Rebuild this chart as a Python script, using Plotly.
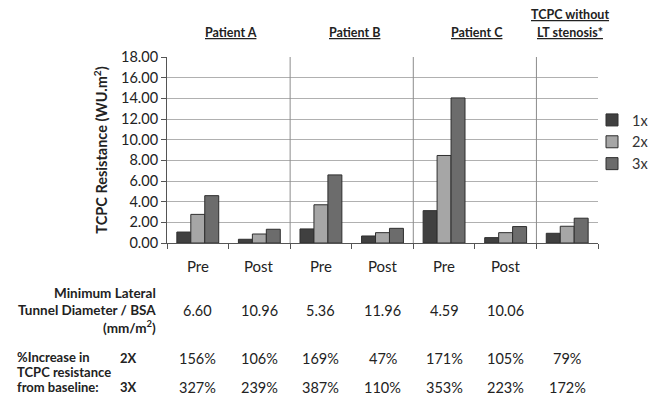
import plotly.graph_objects as go

categories = ["Pre", "Post", "Pre", "Post", "Pre", "Post", ""]
groups = ["Patient A", "Patient B", "Patient C", "TCPC without|LT stenosis*"]
series_names = ["1x", "2x", "3x"]
values_1x = [1.06, 0.36, 1.36, 0.68, 3.13, 0.52, 0.94]
values_2x = [2.77, 0.87, 3.70, 1.00, 8.47, 1.00, 1.62]
values_3x = [4.58, 1.33, 6.59, 1.42, 14.04, 1.59, 2.40]
diam_bsa = ["6.60", "10.96", "5.36", "11.96", "4.59", "10.06", ""]
inc_2x = ["156%", "106%", "169%", "47%", "171%", "105%", "79%"]
inc_3x = ["327%", "239%", "387%", "110%", "353%", "223%", "172%"]
y_ticks = [0, 2, 4, 6, 8, 10, 12, 14, 16, 18]
diam_label = ["Minimum Lateral", "Tunnel Diameter / BSA", "(mm/m<sup>2</sup>)"]
inc_label = ["%Increase in", "TCPC resistance", "from baseline:"]
inc_rows = ["2X", "3X"]

colors = ["#404040", "#a6a6a6", "#6c6c6c"]
FONT = "Lato, Calibri, Carlito, sans-serif"
TXT = "#222222"

W, H = 651, 395
L, R, T, B = 167, 53, 57, 152
plot_h = H - T - B
plot_w = W - L - R

def py(p):
    return (H - B - p) / plot_h

def px(p):
    return (p - L) / plot_w

x_idx = list(range(len(categories)))
fig = go.Figure()
for name, vals, c in zip(series_names, [values_1x, values_2x, values_3x], colors):
    fig.add_trace(go.Bar(x=x_idx, y=vals, name=name,
                         marker=dict(color=c, line=dict(color="#2e2e2e", width=1))))

fig.update_layout(
    width=W, height=H, margin=dict(l=L, r=R, t=T, b=B, autoexpand=False),
    paper_bgcolor="white", plot_bgcolor="white",
    barmode="group", bargap=0.32, bargroupgap=0,
    font=dict(family=FONT, color=TXT),
    legend=dict(x=px(592), y=py(142), yanchor="middle", xanchor="left",
                font=dict(size=14.5, color="#333333"), itemwidth=30, tracegroupgap=0,
                bgcolor="rgba(0,0,0,0)"),
    showlegend=True,
)
fig.update_xaxes(range=[-0.5, len(categories) - 0.5], tickmode="array",
                 tickvals=[i - 0.5 for i in range(len(categories) + 1)],
                 showticklabels=False,
                 ticks="outside", ticklen=5, tickcolor="#555555", showgrid=False,
                 showline=True, linecolor="#555555", linewidth=1, zeroline=False)
fig.update_yaxes(range=[0, 18], tickmode="array", tickvals=y_ticks,
                 ticktext=[f"{v:.2f}" for v in y_ticks], ticks="outside", ticklen=5,
                 tickcolor="#555555", showgrid=True, gridcolor="#b0b0b0", gridwidth=1,
                 showline=True, linecolor="#555555", zeroline=False,
                 tickfont=dict(size=14.5, color=TXT),
                 title=dict(text="<b>TCPC Resistance (WU.m<sup>2</sup>)</b>",
                            font=dict(size=14.5), standoff=9))

# vertical separators between patients
for i in [1, 3, 5]:
    fig.add_shape(type="line", x0=i + 0.5, x1=i + 0.5, y0=0, y1=1, xref="x", yref="paper",
                  line=dict(color="#8c8c8c", width=1))

def text(xv, p, t, size, xref="x", xanchor="center", bold=False):
    if not t:
        return
    fig.add_annotation(x=xv, y=py(p), xref=xref, yref="paper",
                       text=f"<b>{t}</b>" if bold else t, showarrow=False,
                       xanchor=xanchor, yanchor="middle", font=dict(size=size, color=TXT))

# group headers
header_x = [0.5, 2.5, 4.5, 6]
for gx, g in zip(header_x, groups):
    lines = g.split("|")
    ys = [33] if len(lines) == 1 else [15, 33]
    for ln, yy in zip(lines, ys):
        text(gx + 0.04, yy, f"<u>{ln}</u>", 12.5, bold=True)

# category labels and table
for i in x_idx:
    text(i, 266, categories[i], 15)
    text(i, 310, diam_bsa[i], 14.5)
    text(i, 358, inc_2x[i], 14.5)
    text(i, 387, inc_3x[i], 14.5)

for ln, yy in zip(diam_label, [293, 310, 327]):
    text(px(158), yy, ln, 13.5, xref="paper", xanchor="right", bold=True)
for ln, yy in zip(inc_label, [357, 372, 387]):
    text(px(15), yy, ln, 13, xref="paper", xanchor="left", bold=True)
for lab, yy in zip(inc_rows, [358, 387]):
    text(px(128), yy, lab, 13, xref="paper", bold=True)

fig.write_html("out.html", config={"displayModeBar": False},
               post_script="document.body.style.margin='0';")
